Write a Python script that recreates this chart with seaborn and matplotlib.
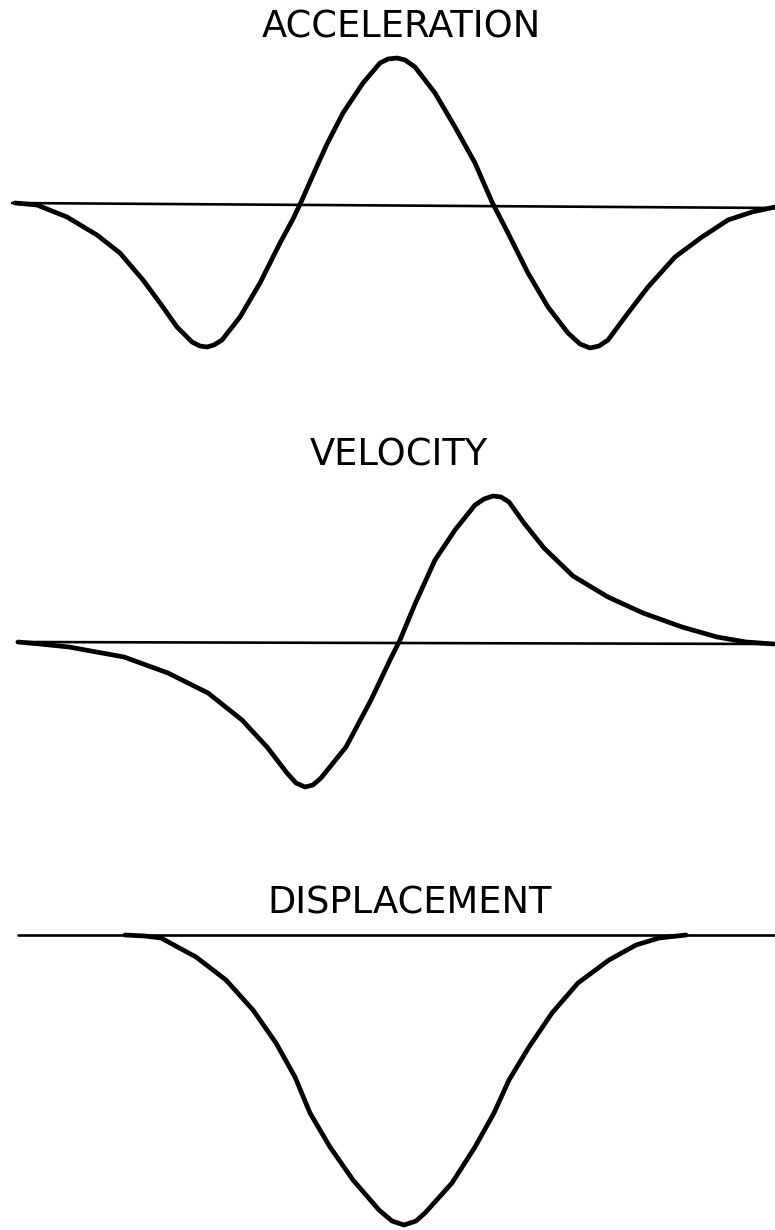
import numpy as np
import pandas as pd
import matplotlib
matplotlib.use("Agg")
import matplotlib.pyplot as plt
import seaborn as sns

# values: time (left->right) and amplitude above each baseline
acc_t = [15, 37, 67, 97, 120, 143, 160, 177, 192, 200, 207, 214, 222, 240, 260, 280, 293,
         302, 313, 327, 343, 363, 380, 388, 397, 405, 415, 435, 455, 475, 492, 508, 528,
         548, 568, 580, 590, 599, 608, 628, 648, 675, 702, 728, 752, 775]
acc_a = [2, 0, -12, -30, -48, -75, -98, -122, -137, -141, -142, -140, -135, -112, -78, -38,
         -14, 5, 30, 61, 92, 122, 142, 146, 147, 145, 138, 112, 78, 42, 3, -28, -68, -102,
         -128, -139, -143, -141, -135, -108, -82, -52, -32, -15, -7, -2]
acc_base_t = [12, 775]
acc_base_a = [2, -3]

vel_t = [18, 40, 69, 124, 168, 208, 242, 267, 287, 296, 305, 313, 321, 346, 371, 390, 400,
         415, 435, 455, 475, 484, 493, 501, 509, 524, 544, 573, 608, 643, 682, 717, 746, 774]
vel_a = [0, -2, -5, -15, -31, -51, -78, -105, -131, -141, -145, -143, -136, -105, -58, -18,
         2, 38, 82, 112, 137, 143, 146, 145, 140, 119, 94, 66, 45, 29, 15, 5, 0, -2]
vel_base_t = [17, 775]
vel_base_a = [0, -2]

disp_t = [125, 145, 161, 196, 226, 253, 276, 295, 310, 330, 353, 379, 392, 404, 416, 425,
          452, 475, 494, 509, 529, 552, 578, 609, 636, 659, 686]
disp_a = [0, -1, -3, -22, -45, -75, -108, -142, -178, -212, -245, -275, -286, -290, -286,
          -278, -248, -212, -178, -145, -112, -78, -48, -25, -10, -3, 0]
disp_base_t = [18, 775]
disp_base_a = [0, 0]

titles = ["ACCELERATION", "VELOCITY", "DISPLACEMENT"]

sns.set_style("white")
plt.rcParams["font.family"] = ["DejaVu Sans"]

fig = plt.figure(figsize=(7.75, 12.3), dpi=100)

panels = [
    (acc_t, acc_a, acc_base_t, acc_base_a, (0 / 1230, 410 / 1230), (-205, 205), (401, 178)),
    (vel_t, vel_a, vel_base_t, vel_base_a, (410 / 1230, 820 / 1230), (-178, 232), (399, 187)),
    (disp_t, disp_a, disp_base_t, disp_base_a, (820 / 1230, 1230 / 1230), (-295, 115), (410, 32)),
]

for (t, a, bt, ba, (top, bottom), ylim, (tx, ty)), title in zip(panels, titles):
    ax = fig.add_axes([0, 1 - bottom, 1, bottom - top])
    df = pd.DataFrame({"t": t, "a": a})
    base = pd.DataFrame({"t": bt, "a": ba})
    sns.lineplot(data=base, x="t", y="a", ax=ax, color="black", linewidth=1.9,
                 estimator=None, sort=False)
    sns.lineplot(data=df, x="t", y="a", ax=ax, color="black", linewidth=3.4,
                 estimator=None, sort=False, solid_joinstyle="round", solid_capstyle="round")
    ax.text(tx, ty, title, ha="center", va="center", fontsize=26.5, color="black")
    ax.set_xlim(0, 775)
    ax.set_ylim(*ylim)
    ax.axis("off")

fig.savefig("out.png", dpi=100)
